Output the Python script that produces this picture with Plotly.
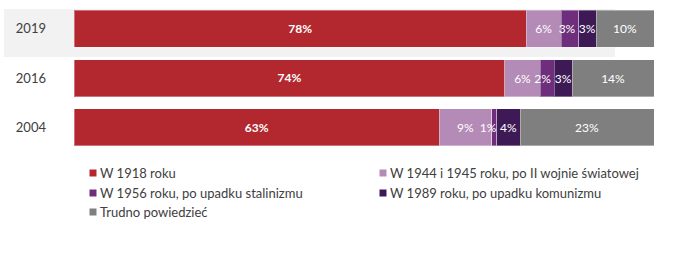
import plotly.graph_objects as go

years = ["2019", "2016", "2004"]
series_names = [
    "W 1918 roku",
    "W 1944 i 1945 roku, po II wojnie światowej",
    "W 1956 roku, po upadku stalinizmu",
    "W 1989 roku, po upadku komunizmu",
    "Trudno powiedzieć",
]
v1918 = [78.0, 74.3, 63.0]
v1945 = [6.0, 6.1, 9.0]
v1956 = [3.0, 2.4, 0.9]
v1989 = [3.0, 3.1, 4.0]
vtrudno = [10.0, 14.1, 23.1]
series_values = [v1918, v1945, v1956, v1989, vtrudno]
colors = ["#B3282E", "#B48AB6", "#6E2E7B", "#3D1A55", "#7F7F7F"]
anchors = ["middle", "middle", "end", "middle", "middle"]

FONT = "Lato, sans-serif"
W, H = 694, 254
L, R, T, B = 74, 40, 4, 102
PW, PH = W - L - R, H - T - B

def px_x(p):
    return (p - L) / PW

def px_y(p):
    return (H - B - p) / PH

fig = go.Figure()
for i, (name, vals, col) in enumerate(zip(series_names, series_values, colors)):
    fig.add_trace(go.Bar(
        y=years, x=vals, orientation="h", name=name,
        marker=dict(color=col, line=dict(color="rgba(255,255,255,0.35)", width=1)),
        text=[f"{round(v):.0f}%" for v in vals],
        textposition="inside", insidetextanchor=anchors[i], textangle=0,
        constraintext="none",
        textfont=dict(color="white", size=12.5 if i == 0 else 12, family=FONT,
                      weight="bold" if i == 0 else "normal"),
        showlegend=False, hoverinfo="skip",
    ))

# highlight band behind 2019
fig.add_shape(type="rect", xref="paper", yref="paper",
              x0=px_x(4), x1=px_x(615), y0=px_y(57), y1=px_y(9),
              fillcolor="#F2F2F2", line_width=0, layer="below")

# manual legend
leg_pos = [(93, 173), (383, 173), (93, 193), (383, 193), (93, 212)]
for (lx, ly), name, col in zip(leg_pos, series_names, colors):
    fig.add_shape(type="rect", xref="paper", yref="paper",
                  x0=px_x(lx - 3.5), x1=px_x(lx + 3.5),
                  y0=px_y(ly + 3.5), y1=px_y(ly - 3.5),
                  fillcolor=col, line_width=0)
    fig.add_annotation(xref="paper", yref="paper", x=px_x(lx + 5), y=px_y(ly),
                       text=name, showarrow=False, xanchor="left", yanchor="middle",
                       font=dict(size=13, color="#404040", family=FONT))

fig.update_layout(
    width=W, height=H, barmode="stack", bargap=0.25,
    margin=dict(l=L, r=R, t=T, b=B),
    paper_bgcolor="white", plot_bgcolor="rgba(0,0,0,0)",
    uniformtext=dict(minsize=12, mode="show"),
    font=dict(family=FONT, color="#404040"),
)
fig.update_xaxes(range=[0, 100], visible=False, fixedrange=True)
fig.update_yaxes(categoryorder="array", categoryarray=years[::-1],
                 showgrid=False, zeroline=False, showline=False, ticks="",
                 ticklabelstandoff=27, tickfont=dict(size=13, color="#404040", family=FONT))

fig.write_html("out.html")
